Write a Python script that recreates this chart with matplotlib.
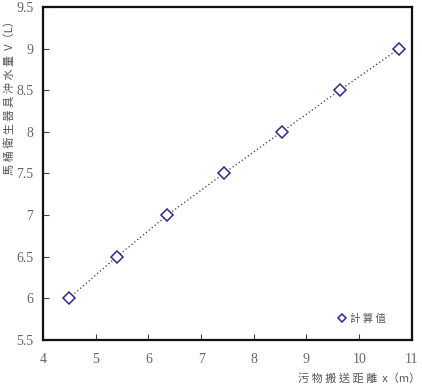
import matplotlib
matplotlib.use("Agg")
import matplotlib.pyplot as plt

x_dist = [4.49, 5.40, 6.36, 7.43, 8.53, 9.63, 10.76]
v_water = [6.0, 6.5, 7.0, 7.5, 8.0, 8.5, 9.0]
x_ticks = [4, 5, 6, 7, 8, 9, 10, 11]
y_ticks = [5.5, 6, 6.5, 7, 7.5, 8, 8.5, 9, 9.5]
x_label = "污 物 搬 送 距 離  x（m）"
y_label = "馬 桶 衛 生 器 具 沖 水 量  V（L）"
legend_label = "計 算 值"

cjk = ["Noto Sans CJK TC", "DejaVu Sans"]
serif = ["Liberation Serif", "DejaVu Serif"]

fig = plt.figure(figsize=(4.22, 3.87), dpi=100)
ax = fig.add_axes([0.102, 0.1214, 0.874, 0.8606])

ax.plot(x_dist, v_water, linestyle=(0, (1, 2)), color="#333333", linewidth=0.9, zorder=1)
ax.plot(x_dist, v_water, linestyle="none", marker="D", markersize=6.5,
        markerfacecolor="white", markeredgecolor="#2b2b8c", markeredgewidth=1.1,
        label=legend_label, zorder=2)

ax.set_xlim(4, 11)
ax.set_ylim(5.5, 9.5)
ax.set_xticks(x_ticks)
ax.set_xticklabels([str(t) for t in x_ticks])
ax.set_yticks(y_ticks)
ax.set_yticklabels([f"{t:g}" for t in y_ticks])
ax.tick_params(direction="in", length=4, width=0.8, colors="#444444", labelsize=10)
ax.tick_params(axis="x", pad=9)
ax.tick_params(axis="y", pad=7)
for lbl in ax.get_xticklabels() + ax.get_yticklabels():
    lbl.set_family(serif)
    lbl.set_color("#666666")
for s in ax.spines.values():
    s.set_linewidth(1.6)
    s.set_color("#111111")

leg = ax.legend(loc="lower right", bbox_to_anchor=(0.955, 0.02), frameon=False,
                prop={"family": cjk, "size": 7.5}, handletextpad=0.3,
                handlelength=1.0, markerscale=0.7)
for t in leg.get_texts():
    t.set_color("#555555")

fig.text(0.022, 0.755, y_label, rotation=90, ha="center", va="center",
         family=cjk, fontsize=8, color="#555555")
fig.text(0.995, 0.022, x_label, ha="right", va="center",
         family=cjk, fontsize=8, color="#555555")

fig.savefig("out.png", dpi=100)
